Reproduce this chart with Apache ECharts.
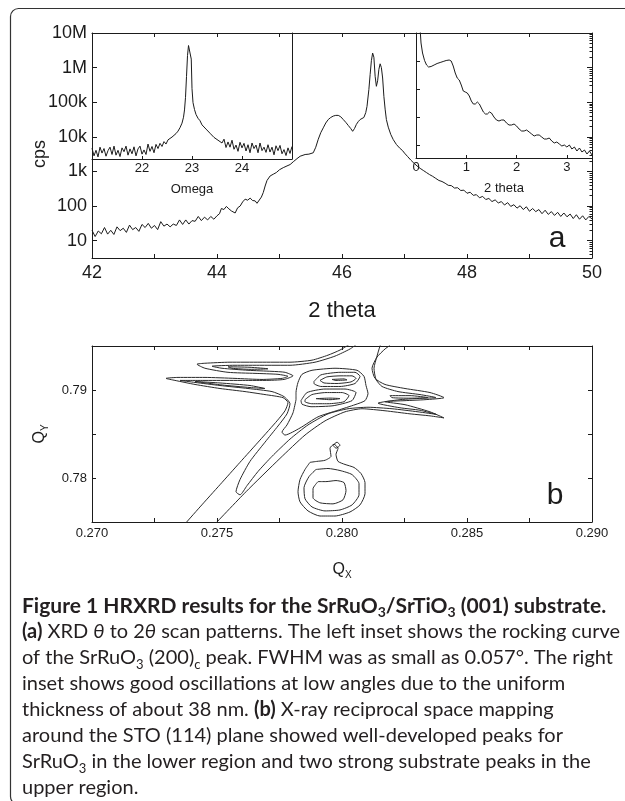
<!DOCTYPE html>
<html><head><meta charset="utf-8">
<script src="https://cdn.jsdelivr.net/npm/echarts@6.0.0/dist/echarts.min.js"></script>
<style>html,body{margin:0;padding:0;background:#fff}#c{width:625px;height:801px}</style>
</head><body><div id="c"></div>
<script>
const INK = '#1b1b1b';
const AXIS_FONT = '"Liberation Sans", Arial, Helvetica, sans-serif';
const CAPTION_FONT = 'Lato, "Noto Sans", sans-serif';

// ---- Panel (a): theta-2theta scan, [2theta, log10(cps)] ----
const mainScan = [
[42.00,1.30],[42.05,1.12],[42.10,1.28],[42.15,1.20],[42.20,1.38],[42.25,1.19],[42.30,1.30],[42.35,1.18],[42.40,1.40],[42.45,1.29],
[42.50,1.36],[42.55,1.24],[42.60,1.45],[42.65,1.32],[42.70,1.38],[42.75,1.27],[42.80,1.47],[42.85,1.38],[42.90,1.50],[42.95,1.36],
[43.00,1.44],[43.05,1.32],[43.10,1.55],[43.15,1.42],[43.20,1.48],[43.25,1.40],[43.30,1.48],[43.35,1.44],[43.40,1.60],[43.45,1.47],
[43.50,1.60],[43.55,1.48],[43.60,1.58],[43.65,1.56],[43.70,1.70],[43.75,1.58],[43.80,1.68],[43.85,1.60],[43.90,1.70],[43.95,1.62],
[44.00,1.72],[44.04,1.78],[44.07,1.93],[44.11,1.90],[44.15,1.99],[44.19,1.92],[44.23,1.86],[44.26,1.84],[44.29,1.80],[44.33,1.95],
[44.37,2.00],[44.41,2.12],[44.45,2.20],[44.49,2.17],[44.53,2.23],[44.57,2.16],[44.61,2.15],[44.64,2.08],[44.67,2.10],[44.71,2.26],
[44.74,2.39],[44.77,2.58],[44.80,2.74],[44.85,2.87],[44.90,2.92],[44.95,2.97],[45.00,3.05],[45.06,3.11],[45.12,3.16],[45.17,3.20],
[45.22,3.28],[45.28,3.37],[45.33,3.44],[45.41,3.49],[45.47,3.50],[45.54,3.54],[45.58,3.70],[45.62,3.93],[45.66,4.12],[45.70,4.26],
[45.74,4.40],[45.78,4.50],[45.82,4.56],[45.86,4.60],[45.90,4.62],[45.94,4.62],[45.98,4.58],[46.02,4.50],[46.06,4.42],[46.10,4.33],
[46.14,4.24],[46.17,4.16],[46.20,4.24],[46.23,4.36],[46.26,4.44],[46.29,4.50],[46.32,4.53],[46.35,4.56],[46.38,4.70],[46.40,4.88],
[46.43,5.37],[46.45,5.80],[46.47,6.20],[46.49,6.42],[46.51,6.30],[46.53,5.75],[46.55,5.46],[46.57,5.62],[46.59,5.95],[46.61,6.11],
[46.63,6.00],[46.65,5.70],[46.67,5.17],[46.69,4.80],[46.71,4.50],[46.74,4.28],[46.78,4.07],[46.82,3.92],[46.87,3.78],[46.92,3.68],
[46.97,3.60],[47.00,3.53],[47.05,3.43],[47.10,3.33],[47.15,3.24],[47.20,3.16],[47.25,3.09],[47.30,3.03],[47.35,2.97],[47.40,2.91],
[47.45,2.86],[47.50,2.80],[47.55,2.74],[47.60,2.71],[47.65,2.66],[47.70,2.60],[47.75,2.59],[47.80,2.52],[47.85,2.53],[47.90,2.45],
[47.95,2.46],[48.00,2.37],[48.05,2.40],[48.10,2.31],[48.15,2.33],[48.20,2.24],[48.25,2.28],[48.30,2.19],[48.35,2.22],[48.40,2.13],
[48.45,2.18],[48.50,2.09],[48.55,2.13],[48.60,2.03],[48.65,2.10],[48.70,1.99],[48.75,2.04],[48.80,1.94],[48.85,2.01],[48.90,1.90],
[48.95,1.98],[49.00,1.85],[49.05,1.93],[49.10,1.84],[49.15,1.90],[49.20,1.78],[49.25,1.88],[49.30,1.76],[49.35,1.84],[49.40,1.73],
[49.45,1.82],[49.50,1.70],[49.55,1.80],[49.60,1.69],[49.65,1.77],[49.70,1.64],[49.75,1.75],[49.80,1.62],[49.85,1.72],[49.90,1.60],
[49.95,1.70],[50.00,1.63]
];
const cpsDecades = [1,2,3,4,5,6,7];
const cpsLabels = ['10','100','1k','10k','100k','1M','10M'];
const minorMultipliers = [2,3,4,5,6,7,8,9];

// Left inset: rocking curve, [omega, log10(cps)]
const rockingCurve = [
[21.00,3.69],[21.04,3.47],[21.08,3.63],[21.12,3.44],[21.16,3.72],[21.20,3.55],[21.24,3.68],[21.28,3.46],[21.32,3.62],[21.36,3.72],
[21.40,3.51],[21.44,3.75],[21.48,3.49],[21.52,3.63],[21.56,3.45],[21.60,3.70],[21.64,3.59],[21.68,3.75],[21.72,3.49],[21.76,3.67],
[21.80,3.53],[21.84,3.73],[21.88,3.47],[21.92,3.67],[21.96,3.75],[22.00,3.52],[22.04,3.64],[22.08,3.51],[22.12,3.81],[22.16,3.60],
[22.20,3.74],[22.24,3.56],[22.28,3.80],[22.32,3.68],[22.36,3.83],[22.40,3.74],[22.44,3.88],[22.48,3.81],[22.52,3.93],[22.56,3.89],
[22.60,4.01],[22.64,3.99],[22.68,4.11],[22.72,4.18],[22.76,4.28],[22.80,4.41],[22.83,4.58],[22.85,4.79],[22.87,5.15],[22.89,5.75],
[22.91,6.35],[22.93,6.64],[22.95,6.69],[22.97,6.62],[22.985,6.25],[23.00,5.40],[23.02,5.00],[23.05,4.80],[23.08,4.66],[23.12,4.55],
[23.16,4.48],[23.20,4.36],[23.24,4.33],[23.28,4.24],[23.32,4.23],[23.36,4.12],[23.40,4.13],[23.44,4.00],[23.48,4.03],[23.52,3.92],
[23.56,3.97],[23.60,3.84],[23.64,3.95],[23.68,3.71],[23.72,3.87],[23.76,3.72],[23.80,3.92],[23.84,3.66],[23.88,3.78],[23.92,3.60],
[23.96,3.86],[24.00,3.70],[24.04,3.83],[24.08,3.61],[24.12,3.79],[24.16,3.56],[24.20,3.84],[24.24,3.68],[24.28,3.78],[24.32,3.56],
[24.36,3.84],[24.40,3.62],[24.44,3.72],[24.48,3.57],[24.52,3.79],[24.56,3.58],[24.60,3.72],[24.64,3.50],[24.68,3.76],[24.72,3.62],
[24.76,3.77],[24.80,3.53],[24.84,3.65],[24.88,3.48],[24.92,3.70],[24.96,3.54],[25.00,3.74]
];

// Right inset: low-angle reflectivity, [2theta, log10(I) relative]
const reflectivity = [
[0.08,5.20],[0.10,4.60],[0.13,4.20],[0.17,3.90],[0.21,3.72],[0.25,3.64],[0.30,3.66],[0.36,3.72],[0.42,3.78],[0.48,3.82],
[0.54,3.86],[0.60,3.90],[0.66,3.92],[0.70,3.88],[0.74,3.68],[0.78,3.40],[0.82,3.20],[0.86,3.12],[0.90,2.92],[0.94,2.68],
[0.98,2.64],[1.02,2.60],[1.06,2.48],[1.10,2.28],[1.14,2.16],[1.18,2.16],[1.22,2.24],[1.26,2.16],[1.30,2.00],[1.34,1.84],
[1.38,1.76],[1.42,1.76],[1.46,1.84],[1.50,1.80],[1.55,1.64],[1.60,1.52],[1.65,1.48],[1.70,1.52],[1.75,1.52],[1.80,1.40],
[1.85,1.32],[1.90,1.32],[1.95,1.36],[2.00,1.28],[2.05,1.16],[2.10,1.08],[2.15,1.08],[2.20,1.12],[2.25,1.04],[2.30,0.96],
[2.35,0.88],[2.40,0.92],[2.45,0.92],[2.50,0.84],[2.55,0.76],[2.60,0.76],[2.65,0.80],[2.70,0.68],[2.75,0.60],[2.80,0.64],
[2.85,0.56],[2.90,0.48],[2.95,0.52],[3.00,0.44],[3.05,0.52],[3.10,0.36],[3.15,0.44],[3.20,0.28],[3.25,0.40],[3.30,0.24],
[3.35,0.32],[3.40,0.16],[3.45,0.28],[3.50,0.12]
];
const reflTickLevels = [0.52,1.64,2.76,3.88];

// ---- Panel (b): reciprocal space map contours, [Qx, Qy] ----
const contourOuterLeft = [[0.27364,0.77453],[0.27432,0.77671],[0.27512,0.77924],[0.27592,0.78178],[0.27672,0.78431],[0.27740,0.78649],[0.27772,0.78764],[0.27784,0.78856],[0.27764,0.78913],[0.27692,0.78948],[0.27612,0.78982],[0.27512,0.79017],[0.27412,0.79063],[0.27332,0.79109],[0.27296,0.79132],[0.27344,0.79143],[0.27452,0.79143],[0.27572,0.79132],[0.27680,0.79120],[0.27760,0.79132],[0.27784,0.79155],[0.27744,0.79178],[0.27652,0.79189],[0.27544,0.79201],[0.27452,0.79247],[0.27420,0.79293],[0.27452,0.79304],[0.27552,0.79316],[0.27672,0.79316],[0.27792,0.79316],[0.27880,0.79339],[0.27944,0.79396],[0.27992,0.79454],[0.28032,0.79523]];
const contourOuterRight = [[0.27484,0.77453],[0.27616,0.77844],[0.27752,0.78223],[0.27852,0.78488],[0.27932,0.78649],[0.28012,0.78752],[0.28080,0.78787],[0.28172,0.78764],[0.28272,0.78729],[0.28352,0.78706],[0.28408,0.78683],[0.28352,0.78752],[0.28252,0.78833],[0.28172,0.78867],[0.28252,0.78879],[0.28332,0.78890],[0.28408,0.78913],[0.28352,0.78971],[0.28252,0.79017],[0.28172,0.79063],[0.28132,0.79132],[0.28120,0.79247],[0.28140,0.79374],[0.28172,0.79466],[0.28188,0.79500],[0.28196,0.79523]];
const contourLevel2 = [[0.28060,0.79523],[0.28032,0.79466],[0.27972,0.79385],[0.27892,0.79316],[0.27792,0.79281],[0.27680,0.79281],[0.27572,0.79281],[0.27480,0.79270],[0.27520,0.79247],[0.27624,0.79224],[0.27720,0.79212],[0.27772,0.79201],[0.27804,0.79161],[0.27768,0.79120],[0.27692,0.79109],[0.27592,0.79109],[0.27472,0.79109],[0.27352,0.79109],[0.27412,0.79086],[0.27512,0.79051],[0.27624,0.79017],[0.27720,0.78982],[0.27768,0.78925],[0.27792,0.78844],[0.27780,0.78729],[0.27744,0.78591],[0.27692,0.78407],[0.27632,0.78189],[0.27592,0.77982],[0.27576,0.77844],[0.27592,0.77809],[0.27620,0.77913],[0.27664,0.78074],[0.27720,0.78246],[0.27792,0.78442],[0.27864,0.78603],[0.27944,0.78729],[0.28024,0.78787],[0.28104,0.78804],[0.28200,0.78787],[0.28304,0.78752],[0.28376,0.78724],[0.28312,0.78770],[0.28232,0.78798],[0.28144,0.78850],[0.28232,0.78890],[0.28332,0.78908],[0.28376,0.78913],[0.28312,0.78948],[0.28224,0.78982],[0.28160,0.79040],[0.28136,0.79120],[0.28128,0.79247],[0.28140,0.79385],[0.28152,0.79500],[0.28156,0.79523]];
const contourLevel3 = [[0.27816,0.78890],[0.27804,0.78741],[0.27780,0.78603],[0.27760,0.78522],[0.27772,0.78488],[0.27832,0.78568],[0.27904,0.78695],[0.27984,0.78770],[0.28052,0.78833],[0.28092,0.78879],[0.28104,0.78959],[0.28096,0.79051],[0.28088,0.79155],[0.28060,0.79224],[0.27972,0.79247],[0.27880,0.79224],[0.27840,0.79178],[0.27824,0.79086],[0.27816,0.78971],[0.27816,0.78890]];
const peakLowerOuter = [[0.27836,0.78879],[0.27860,0.78971],[0.27932,0.79011],[0.28012,0.79011],[0.28056,0.78971],[0.28040,0.78879],[0.27964,0.78821],[0.27876,0.78810],[0.27840,0.78839],[0.27836,0.78879]];
const peakUpperOuter = [[0.27888,0.79097],[0.27916,0.79172],[0.27992,0.79201],[0.28052,0.79201],[0.28072,0.79155],[0.28052,0.79074],[0.27992,0.79040],[0.27916,0.79040],[0.27888,0.79074],[0.27888,0.79097]];
const peakLower = [[0.27852,0.78890],[0.27880,0.78948],[0.27936,0.78971],[0.28000,0.78971],[0.28028,0.78936],[0.28008,0.78867],[0.27944,0.78844],[0.27880,0.78844],[0.27852,0.78867],[0.27852,0.78890]];
const peakLowerCore = [[0.27896,0.78902],[0.27952,0.78908],[0.27992,0.78902],[0.27952,0.78890],[0.27896,0.78902]];
const peakUpper = [[0.27912,0.79109],[0.27940,0.79149],[0.27996,0.79161],[0.28040,0.79161],[0.28056,0.79132],[0.28036,0.79092],[0.27980,0.79074],[0.27928,0.79080],[0.27912,0.79109]];
const peakUpperCore = [[0.27960,0.79120],[0.28008,0.79126],[0.28020,0.79115],[0.27976,0.79109],[0.27960,0.79120]];
const wingUpperLeft = [[0.27544,0.79264],[0.27632,0.79258],[0.27704,0.79241],[0.27632,0.79235],[0.27560,0.79247],[0.27544,0.79264]];
const wingLowerLeft = [[0.27412,0.79097],[0.27512,0.79080],[0.27632,0.79051],[0.27692,0.79017],[0.27632,0.79028],[0.27520,0.79057],[0.27412,0.79097]];
const wingUpperRight = [[0.28192,0.78936],[0.28272,0.78936],[0.28344,0.78913],[0.28272,0.78907],[0.28200,0.78913],[0.28192,0.78936]];
const filmOuter = [[0.27872,0.78178],[0.27852,0.78097],[0.27832,0.77982],[0.27824,0.77844],[0.27832,0.77729],[0.27864,0.77626],[0.27912,0.77568],[0.27972,0.77568],[0.28032,0.77614],[0.28072,0.77694],[0.28092,0.77821],[0.28092,0.77948],[0.28076,0.78051],[0.28048,0.78120],[0.28012,0.78154],[0.27984,0.78189],[0.27976,0.78269],[0.27984,0.78338],[0.27968,0.78384],[0.27952,0.78338],[0.27956,0.78246],[0.27932,0.78201],[0.27900,0.78189],[0.27872,0.78178]];
const filmMiddle = [[0.27896,0.78097],[0.27868,0.78016],[0.27848,0.77890],[0.27852,0.77764],[0.27880,0.77671],[0.27932,0.77626],[0.27992,0.77637],[0.28040,0.77694],[0.28068,0.77809],[0.28068,0.77936],[0.28040,0.78039],[0.27992,0.78085],[0.27944,0.78108],[0.27896,0.78097]];
const filmInner = [[0.27904,0.77959],[0.27884,0.77878],[0.27884,0.77775],[0.27912,0.77718],[0.27964,0.77706],[0.28004,0.77752],[0.28016,0.77856],[0.28008,0.77948],[0.27976,0.77971],[0.27936,0.77959],[0.27904,0.77959]];
const filmSpeck = [[0.27964,0.78373],[0.27980,0.78407],[0.27992,0.78373],[0.27976,0.78338],[0.27964,0.78373]];

const contourList = [contourOuterLeft, contourOuterRight, contourLevel2, contourLevel3, peakLowerOuter, peakUpperOuter,
  peakLower, peakLowerCore, peakUpper, peakUpperCore, wingUpperLeft, wingLowerLeft, wingUpperRight,
  filmOuter, filmMiddle, filmInner, filmSpeck];

// ---- caption ----
const captionLines = [
  '{h|Figure 1 HRXRD results for the SrRuO}{hs|3}{h|/SrTiO}{hs|3}{h| (001) substrate.}',
  '{b|(a)}{r| XRD }{i|θ}{r| to 2}{i|θ}{r| scan patterns. The left inset shows the rocking curve}',
  '{r|of the SrRuO}{s|3}{r| (200)}{s|c}{r| peak. FWHM was as small as 0.057°. The right}',
  '{r|inset shows good oscillations at low angles due to the uniform}',
  '{r|thickness of about 38 nm. }{b|(b)}{r| X-ray reciprocal space mapping}',
  '{r|around the STO (114) plane showed well-developed peaks for}',
  '{r|SrRuO}{s|3}{r| in the lower region and two strong substrate peaks in the}',
  '{r|upper region.}'
];

// ---- build ----
const minorTicks = [];
[0,1,2,3,4,5,6].forEach(d => minorMultipliers.forEach(m => {
  const v = d + Math.log10(m);
  if (v > 0.5 && v < 7) minorTicks.push(v);
}));

const lineStyle = {color: INK, width: 1};
const axLine = {show: true, onZero: false, lineStyle: {color: INK, width: 1}};
const noSplit = {show: false};
const labelBase = {color: INK, fontFamily: AXIS_FONT};

function hiddenAxis(extra) {
  return Object.assign({type: 'value', axisLine: {show: false}, axisTick: {show: false},
    axisLabel: {show: false}, splitLine: noSplit}, extra);
}

const capColor = '#231f20';
const capRich = {
  r: {fontFamily: CAPTION_FONT, fontSize: 20, lineHeight: 26, fill: capColor},
  b: {fontFamily: CAPTION_FONT, fontSize: 20, lineHeight: 26, fill: capColor, fontWeight: 'bold'},
  h: {fontFamily: CAPTION_FONT, fontSize: 21, lineHeight: 26, fill: capColor, fontWeight: 'bold'},
  i: {fontFamily: CAPTION_FONT, fontSize: 20, lineHeight: 26, fill: capColor, fontStyle: 'italic'},
  s: {fontFamily: CAPTION_FONT, fontSize: 13, lineHeight: 17, fill: capColor, verticalAlign: 'bottom'},
  hs: {fontFamily: CAPTION_FONT, fontSize: 14, lineHeight: 17, fill: capColor, fontWeight: 'bold', verticalAlign: 'bottom'}
};

const qRich = {
  q: {fontFamily: AXIS_FONT, fontSize: 16, lineHeight: 20, color: INK},
  s: {fontFamily: AXIS_FONT, fontSize: 10, lineHeight: 12, color: INK, verticalAlign: 'bottom'}
};

const option = {
  animation: false,
  backgroundColor: '#ffffff',
  grid: [
    {left: 92, top: 33, width: 500, height: 225},
    {left: 92, top: 33, width: 200, height: 126},
    {left: 416, top: 33, width: 176, height: 125},
    {left: 92, top: 346, width: 500, height: 176}
  ],
  xAxis: [
    {gridIndex: 0, type: 'value', min: 42, max: 50, interval: 1, axisLine: axLine,
     axisTick: {inside: true, length: 4, lineStyle}, splitLine: noSplit,
     axisLabel: Object.assign({fontSize: 18, margin: 6, formatter: v => (Math.round(v) % 2 === 0 ? String(Math.round(v)) : '')}, labelBase),
     name: '2 theta', nameLocation: 'middle', nameGap: 42, nameMoveOverlap: false,
     nameTextStyle: {fontSize: 22, fontFamily: AXIS_FONT, color: INK}},
    {gridIndex: 0, type: 'value', position: 'top', min: 42, max: 50, interval: 1, axisLine: axLine,
     axisTick: {inside: true, length: 4, lineStyle}, axisLabel: {show: false}, splitLine: noSplit},
    {gridIndex: 1, type: 'value', min: 21, max: 25, interval: 1, axisLine: axLine,
     axisTick: {inside: true, length: 3, lineStyle}, splitLine: noSplit,
     axisLabel: Object.assign({fontSize: 13, margin: 3, formatter: v => (v > 21.5 && v < 24.5 ? String(v) : '')}, labelBase),
     name: 'Omega', nameLocation: 'middle', nameGap: 24, nameMoveOverlap: false,
     nameTextStyle: {fontSize: 13, fontFamily: AXIS_FONT, color: INK}},
    {gridIndex: 2, type: 'value', min: 0, max: 3.5, interval: 1, axisLine: axLine,
     axisTick: {inside: true, length: 3, lineStyle}, splitLine: noSplit,
     axisLabel: Object.assign({fontSize: 13, margin: 3, formatter: v => (Number.isInteger(v) ? String(v) : '')}, labelBase),
     name: '2 theta', nameLocation: 'middle', nameGap: 24, nameMoveOverlap: false,
     nameTextStyle: {fontSize: 13, fontFamily: AXIS_FONT, color: INK}},
    {gridIndex: 3, type: 'value', min: 0.27, max: 0.29, interval: 0.0025, axisLine: axLine,
     axisTick: {inside: true, length: 4, lineStyle}, splitLine: noSplit,
     axisLabel: Object.assign({fontSize: 13, margin: 5, formatter: v => (Math.round(v / 0.0025) % 2 === 0 ? v.toFixed(3) : '')}, labelBase),
     name: '{q|Q}{s|X}', nameLocation: 'middle', nameGap: 38, nameMoveOverlap: false,
     nameTextStyle: {fontSize: 16, fontFamily: AXIS_FONT, color: INK, rich: qRich}},
    {gridIndex: 3, type: 'value', position: 'top', min: 0.27, max: 0.29, interval: 0.0025, axisLine: axLine,
     axisTick: {inside: true, length: 4, lineStyle}, axisLabel: {show: false}, splitLine: noSplit}
  ],
  yAxis: [
    {gridIndex: 0, type: 'value', min: 0.5, max: 7, axisLine: axLine,
     axisTick: {inside: true, length: 5, lineStyle, customValues: cpsDecades}, splitLine: noSplit,
     axisLabel: Object.assign({fontSize: 18, margin: 5, customValues: cpsDecades,
       formatter: v => cpsLabels[cpsDecades.indexOf(Math.round(v))] || ''}, labelBase),
     name: 'cps', nameLocation: 'middle', nameGap: 43, nameMoveOverlap: false,
     nameTextStyle: {fontSize: 18, fontFamily: AXIS_FONT, color: INK, padding: [0, 17, 0, 0]}},
    hiddenAxis({gridIndex: 0, min: 0.5, max: 7,
     axisTick: {show: true, inside: true, length: 2.5, lineStyle, customValues: minorTicks}}),
    {gridIndex: 0, type: 'value', position: 'right', min: 0.5, max: 7, axisLine: axLine,
     axisTick: {inside: true, length: 5, lineStyle, customValues: cpsDecades}, axisLabel: {show: false}, splitLine: noSplit},
    hiddenAxis({gridIndex: 1, min: 3.38, max: 7}),
    {gridIndex: 1, type: 'value', position: 'right', min: 3.38, max: 7, axisLine: axLine,
     axisTick: {show: false}, axisLabel: {show: false}, splitLine: noSplit},
    {gridIndex: 2, type: 'value', min: 0, max: 5, axisLine: axLine,
     axisTick: {inside: true, length: 4, lineStyle, customValues: reflTickLevels}, axisLabel: {show: false}, splitLine: noSplit},
    {gridIndex: 3, type: 'value', min: 0.775, max: 0.795, interval: 0.005, axisLine: axLine,
     axisTick: {inside: true, length: 4, lineStyle}, splitLine: noSplit,
     axisLabel: Object.assign({fontSize: 13, margin: 5, formatter: v => (Math.round(v / 0.005) % 2 === 0 ? v.toFixed(2) : '')}, labelBase),
     name: '{q|Q}{s|Y}', nameLocation: 'middle', nameGap: 42, nameMoveOverlap: false,
     nameTextStyle: {fontSize: 16, fontFamily: AXIS_FONT, color: INK, rich: qRich}},
    {gridIndex: 3, type: 'value', position: 'right', min: 0.775, max: 0.795, interval: 0.005, axisLine: axLine,
     axisTick: {inside: true, length: 4, lineStyle}, axisLabel: {show: false}, splitLine: noSplit}
  ],
  series: [
    {type: 'line', xAxisIndex: 0, yAxisIndex: 0, data: mainScan, showSymbol: false, symbol: 'none', silent: true, lineStyle},
    {type: 'line', xAxisIndex: 2, yAxisIndex: 3, data: rockingCurve, showSymbol: false, symbol: 'none', silent: true, lineStyle},
    {type: 'line', xAxisIndex: 3, yAxisIndex: 5, data: reflectivity, showSymbol: false, symbol: 'none', silent: true, lineStyle}
  ].concat(contourList.map(d => ({
    type: 'line', xAxisIndex: 4, yAxisIndex: 6, data: d, showSymbol: false, symbol: 'none', silent: true,
    smooth: 0.2, lineStyle: {color: '#2a2a2a', width: 1}
  }))),
  graphic: [
    {type: 'rect', silent: true, z: -10, shape: {x: 10.5, y: 8.5, width: 640, height: 796, r: 8},
     style: {fill: 'none', stroke: '#333', lineWidth: 1.2}},
    {type: 'text', silent: true, x: 557, y: 239, style: {text: 'a', fontFamily: AXIS_FONT, fontSize: 30, fill: INK, align: 'center', verticalAlign: 'middle'}},
    {type: 'text', silent: true, x: 555, y: 496, style: {text: 'b', fontFamily: AXIS_FONT, fontSize: 30, fill: INK, align: 'center', verticalAlign: 'middle'}},
    {type: 'text', silent: true, x: 22, y: 593, style: {text: captionLines.join('\n'), rich: capRich,
      fontFamily: CAPTION_FONT, fontSize: 20, lineHeight: 26, fill: capColor, align: 'left', verticalAlign: 'top'}}
  ]
};

const chart = echarts.init(document.getElementById('c'), null, {renderer: 'canvas'});
chart.setOption(option);
</script></body></html>
